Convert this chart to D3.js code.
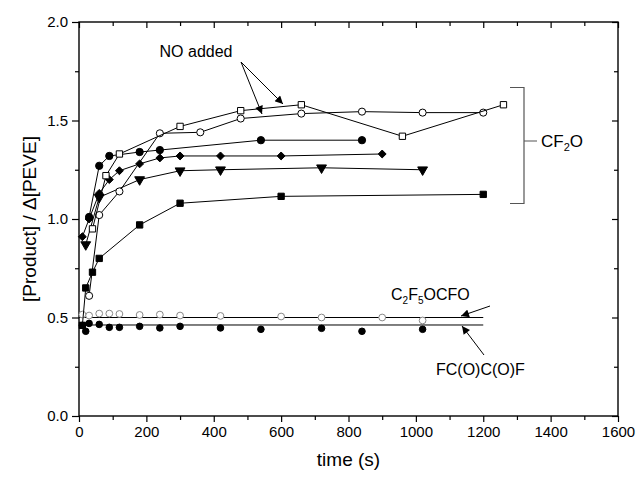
<!DOCTYPE html>
<html><head><meta charset="utf-8">
<script src="https://cdn.jsdelivr.net/npm/d3@7"></script>
<style>body{margin:0;background:#fff}svg text{font-family:Arial,"Liberation Sans",sans-serif}</style>
</head><body><svg id="c" width="638" height="480"></svg>
<script>
// CF2O series (time s, ratio)
const filledCircleCF2O = [[30,1.01],[60,1.27],[90,1.32],[180,1.34],[240,1.35],[540,1.40],[840,1.40]];
const diamondCF2O = [[10,0.91],[30,1.00],[60,1.13],[90,1.20],[120,1.245],[180,1.28],[240,1.31],[300,1.32],[420,1.32],[600,1.32],[900,1.33]];
const triangleCF2O = [[20,0.87],[60,1.11],[180,1.20],[300,1.245],[420,1.25],[720,1.26],[1020,1.25]];
const filledSquareCF2O = [[10,0.46],[20,0.65],[40,0.73],[60,0.80],[180,0.97],[300,1.08],[600,1.115],[1200,1.125]];
const openSquareNO = [[40,0.95],[80,1.22],[120,1.33],[300,1.47],[480,1.55],[660,1.58],[960,1.42],[1260,1.58]];
const openCircleNO = [[30,0.61],[60,1.02],[120,1.14],[240,1.435],[360,1.44],[480,1.51],[660,1.535],[840,1.545],[1020,1.54],[1200,1.54]];
// C2F5OCFO (gray open circles) and FC(O)C(O)F (filled circles)
const c2f5ocfo = [[10,0.515],[30,0.51],[60,0.52],[90,0.52],[120,0.518],[180,0.513],[240,0.515],[300,0.51],[420,0.508],[600,0.505],[720,0.50],[900,0.50],[1020,0.485]];
const fcocof = [[10,0.46],[20,0.43],[30,0.47],[60,0.465],[90,0.45],[120,0.45],[180,0.455],[240,0.447],[300,0.455],[420,0.447],[540,0.44],[720,0.445],[840,0.43],[1020,0.44]];
const c2f5Mean = 0.50, fcMean = 0.462, meanLineEnd = 1200;
const xTicks = [0,200,400,600,800,1000,1200,1400,1600];
const yTicks = [0.0,0.5,1.0,1.5,2.0];

const svg = d3.select("#c");
const L=79,R=618,T=22,B=416;
const x = d3.scaleLinear().domain([0,1600]).range([L,R]);
const y = d3.scaleLinear().domain([0,2]).range([B,T]);

// defs arrow
svg.append("defs").append("marker").attr("id","ah").attr("viewBox","0 0 10 10").attr("refX",10).attr("refY",5)
  .attr("markerWidth",10).attr("markerHeight",8).attr("markerUnits","userSpaceOnUse").attr("orient","auto")
  .append("path").attr("d","M0,0L10,5L0,10z").attr("fill","#000");

// axes
const ax = svg.append("g");
ax.append("g").attr("transform",`translate(0,${B})`).call(d3.axisBottom(x).tickValues(xTicks).tickFormat(d3.format("d")).tickSize(6).tickPadding(4));
ax.append("g").attr("transform",`translate(0,${B})`).call(d3.axisBottom(x).tickValues(d3.range(100,1600,200)).tickFormat("").tickSize(4));
ax.append("g").attr("transform",`translate(0,${T})`).call(d3.axisBottom(x).tickValues(xTicks).tickFormat("").tickSize(6));
ax.append("g").attr("transform",`translate(0,${T})`).call(d3.axisBottom(x).tickValues(d3.range(100,1600,200)).tickFormat("").tickSize(4));
ax.append("g").attr("transform",`translate(${L},0)`).call(d3.axisLeft(y).tickValues(yTicks).tickFormat(d3.format(".1f")).tickSize(7).tickPadding(4));
ax.append("g").attr("transform",`translate(${L},0)`).call(d3.axisLeft(y).tickValues([0.25,0.75,1.25,1.75]).tickFormat("").tickSize(4));
ax.append("g").attr("transform",`translate(${R},0)`).call(d3.axisLeft(y).tickValues(yTicks).tickFormat("").tickSize(6));
ax.append("g").attr("transform",`translate(${R},0)`).call(d3.axisLeft(y).tickValues([0.25,0.75,1.25,1.75]).tickFormat("").tickSize(4));
ax.selectAll(".domain").remove();
ax.selectAll("line").attr("stroke","#000").attr("stroke-width",1.2);
ax.selectAll("text").attr("font-size",15).attr("fill","#000").attr("font-family","Arial, 'Liberation Sans', sans-serif");
svg.append("rect").attr("x",L).attr("y",T).attr("width",R-L).attr("height",B-T).attr("fill","none").attr("stroke","#000").attr("stroke-width",1.4);

// axis titles
svg.append("text").attr("x",(L+R)/2).attr("y",466).attr("text-anchor","middle").attr("font-size",19).text("time (s)");
svg.append("text").attr("transform",`translate(36,${(T+B)/2}) rotate(-90)`).attr("text-anchor","middle").attr("font-size",19).text("[Product] / Δ[PEVE]");

// mean lines
[c2f5Mean,fcMean].forEach(v=>svg.append("line").attr("x1",x(0)).attr("x2",x(meanLineEnd)).attr("y1",y(v)).attr("y2",y(v)).attr("stroke","#000").attr("stroke-width",1));

const line = d3.line().x(d=>x(d[0])).y(d=>y(d[1]));
function series(data,sym,size,fill,stroke,lineOn,rot){
  if(lineOn) svg.append("path").attr("d",line(data)).attr("fill","none").attr("stroke","#000").attr("stroke-width",1);
  svg.append("g").selectAll("path").data(data).join("path")
    .attr("d",d3.symbol().type(sym).size(size))
    .attr("transform",d=>`translate(${x(d[0])},${y(d[1])})${rot?" rotate(180)":""}`)
    .attr("fill",fill).attr("stroke",stroke).attr("stroke-width",1);
}
series(c2f5ocfo,d3.symbolCircle,36,"#fff","#888",false);
series(fcocof,d3.symbolCircle,34,"#000","#000",false);
series(filledSquareCF2O,d3.symbolSquare,40,"#000","#000",true);
series(triangleCF2O,d3.symbolTriangle,42,"#000","#000",true,true);
series(diamondCF2O,d3.symbolDiamond2,40,"#000","#000",true);
series(filledCircleCF2O,d3.symbolCircle,42,"#000","#000",true);
series(openCircleNO,d3.symbolCircle,40,"#fff","#000",true);
series(openSquareNO,d3.symbolSquare,40,"#fff","#000",true);

// annotations
svg.append("text").attr("x",196).attr("y",57).attr("text-anchor","middle").attr("font-size",16).text("NO added");
[[283,104],[262,114]].forEach(p=>svg.append("line").attr("x1",241).attr("y1",62).attr("x2",p[0]).attr("y2",p[1]).attr("stroke","#000").attr("stroke-width",1).attr("marker-end","url(#ah)"));
svg.append("path").attr("d","M510,87.5H524V203.5H510M524,141H537").attr("fill","none").attr("stroke","#555").attr("stroke-width",1.2);
const cf = svg.append("text").attr("x",541).attr("y",147).attr("font-size",17);
cf.append("tspan").text("CF");cf.append("tspan").attr("font-size",11).attr("dy",4).text("2");cf.append("tspan").attr("dy",-4).text("O");
const c2 = svg.append("text").attr("x",391).attr("y",300).attr("font-size",16);
c2.append("tspan").text("C");c2.append("tspan").attr("font-size",10).attr("dy",4).text("2");c2.append("tspan").attr("dy",-4).text("F");
c2.append("tspan").attr("font-size",10).attr("dy",4).text("5");c2.append("tspan").attr("dy",-4).text("OCFO");
svg.append("line").attr("x1",490).attr("y1",306).attr("x2",461).attr("y2",316).attr("stroke","#000").attr("stroke-width",1).attr("marker-end","url(#ah)");
svg.append("text").attr("x",436).attr("y",375).attr("font-size",16).text("FC(O)C(O)F");
svg.append("line").attr("x1",484).attr("y1",355).attr("x2",462).attr("y2",326).attr("stroke","#000").attr("stroke-width",1).attr("marker-end","url(#ah)");
</script></body></html>
